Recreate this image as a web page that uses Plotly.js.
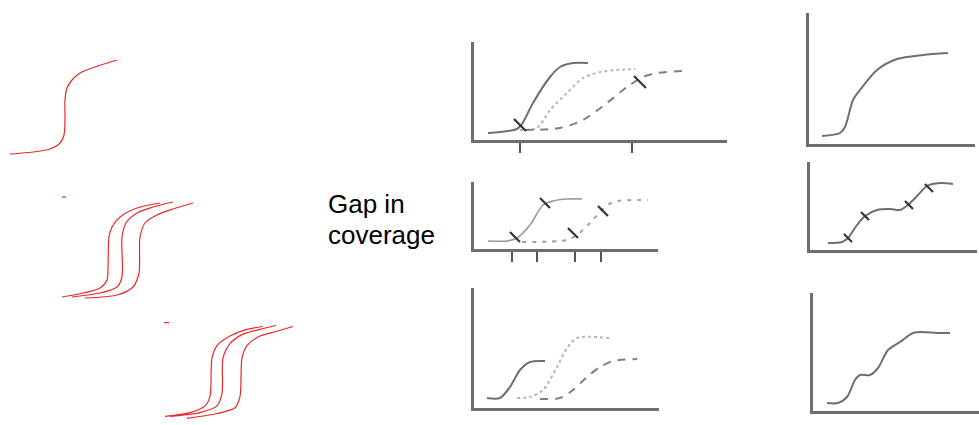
<!DOCTYPE html>
<html>
<head>
<meta charset="utf-8">
<script src="https://cdn.plot.ly/plotly-3.0.1.min.js"></script>
<style>html,body{margin:0;padding:0;background:#fff;}#chart{width:979px;height:425px;}</style>
</head>
<body>
<div id="chart"></div>
<script>
// ---------- DATA (x = time from axis origin, y = level) ----------
// Red hysteresis sketches
const r1X = [10, 33, 50, 60, 64, 65, 65, 67, 72, 80, 95, 117];
const r1Y = [6, 8, 11, 17, 25, 40, 60, 72, 80, 87, 93, 100];

const r2DashX = [22, 26];
const r2DashY = [113, 113];
const r2aX = [22, 43, 60, 67, 68, 69, 72, 80, 97, 120];
const r2aY = [13, 17, 22, 30, 43, 73, 83, 93, 102, 107];
const r2bX = [32, 60, 77, 82, 82, 86, 97, 113, 133];
const r2bY = [13, 17, 23, 33, 73, 87, 97, 103, 108];
const r2cX = [45, 77, 93, 99, 100, 105, 117, 133, 153];
const r2cY = [12, 15, 23, 37, 73, 87, 95, 101, 107];

const r3DashX = [14, 19];
const r3DashY = [107, 107];
const r3aX = [15, 40, 55, 60, 62, 67, 80, 97, 113];
const r3aY = [9, 13, 20, 30, 70, 83, 93, 100, 103];
const r3bX = [20, 50, 67, 72, 73, 80, 93, 110, 126];
const r3bY = [9, 13, 20, 33, 70, 85, 95, 100, 104];
const r3cX = [37, 67, 85, 90, 92, 97, 110, 127, 143];
const r3cY = [7, 12, 18, 30, 70, 83, 93, 98, 103];

// Middle column, panel 1
const g1Ticks = [46, 158];
const g1SolidX = [14, 43, 48, 59, 76, 86, 99, 114];
const g1SolidY = [7, 11, 16, 37, 63, 73, 77, 77];
const g1DotX = [46, 63, 76, 93, 109, 126, 143, 161];
const g1DotY = [10, 12, 30, 47, 62, 68, 70, 71];
const g1DashX = [51, 86, 109, 133, 153, 169, 183, 208];
const g1DashY = [10, 12, 20, 37, 53, 63, 67, 69];
const g1MarkX = [46, 166];
const g1MarkY = [15, 58];

// Middle column, panel 2 (gap in coverage)
const g2Ticks = [38, 63, 101, 127];
const g2SolidX = [14, 33, 43, 56, 69, 79, 93, 108];
const g2SolidY = [8, 8, 11, 24, 44, 48, 50, 50];
const g2DotX = [48, 93, 103, 116, 128, 139, 174];
const g2DotY = [7, 9, 14, 26, 39, 47, 49];
const g2MarkX = [41, 71, 99, 129];
const g2MarkY = [12, 46, 16, 38];

// Middle column, panel 3
const g3SolidX = [13, 26, 36, 46, 56, 71];
const g3SolidY = [10, 10, 21, 38, 46, 47];
const g3DotX = [43, 56, 69, 83, 93, 103, 136];
const g3DotY = [10, 11, 18, 41, 60, 70, 70];
const g3DashX = [66, 86, 99, 113, 126, 139, 163];
const g3DashY = [9, 10, 18, 31, 41, 47, 49];

// Right column
const g4X = [13, 31, 36, 44, 51, 68, 88, 114, 139];
const g4Y = [8, 11, 17, 44, 54, 74, 85, 89, 91];

const g5X = [18, 32, 38, 47, 55, 67, 80, 90, 98, 108, 117, 130, 143];
const g5Y = [7, 8, 12, 25, 34, 40, 41, 40, 45, 55, 64, 67, 66];
const g5MarkX = [38, 55, 99, 119];
const g5MarkY = [12, 34, 45, 62];

const g6X = [14, 25, 34, 42, 47, 57, 65, 75, 87, 100, 110, 124, 137];
const g6Y = [8, 8, 14, 31, 36, 36, 43, 61, 69, 78, 79, 78, 78];

const labelLines = ["Gap in", "coverage"];

// ---------- LAYOUT ----------
const W = 979, H = 425;
// panel boxes in pixels: [left, top, right, bottom]
const panels = [
  {box: [0, 60, 130, 160], axes: false},     // 1 red
  {box: [40, 190, 220, 310], axes: false},   // 2 red
  {box: [150, 315, 310, 430], axes: false},  // 3 red
  {box: [474, 42, 727, 140], axes: true, ticks: g1Ticks},   // 4
  {box: [474, 182, 658, 249], axes: true, ticks: g2Ticks},  // 5
  {box: [474, 288, 659, 408], axes: true},  // 6
  {box: [809, 13, 975, 144], axes: true},   // 7
  {box: [810, 162, 977, 250], axes: true},  // 8
  {box: [813, 293, 979, 411], axes: true}   // 9
];

const layout = {
  width: W, height: H,
  margin: {l: 0, r: 0, t: 0, b: 0},
  paper_bgcolor: '#fff', plot_bgcolor: 'rgba(0,0,0,0)',
  showlegend: false,
  annotations: [],
};

panels.forEach((p, i) => {
  const n = i + 1;
  const [l, t, r, b] = p.box;
  const xa = {
    domain: [Math.max(0, l / W), Math.min(1, r / W)],
    range: [0, r - l], showgrid: false, zeroline: false,
    showticklabels: false, fixedrange: true,
    anchor: 'y' + n,
  };
  const ya = {
    domain: [Math.max(0, 1 - b / H), Math.min(1, 1 - t / H)],
    range: [0, b - t], showgrid: false, zeroline: false,
    showticklabels: false, fixedrange: true,
    anchor: 'x' + n,
  };
  if (p.axes) {
    Object.assign(xa, {showline: true, linecolor: '#6e6e6e', linewidth: 3});
    Object.assign(ya, {showline: true, linecolor: '#6e6e6e', linewidth: 3});
    if (p.ticks) {
      Object.assign(xa, {ticks: 'outside', tickvals: p.ticks, ticklen: 10, tickwidth: 2, tickcolor: '#555'});
    }
  }
  layout['xaxis' + (n === 1 ? '' : n)] = xa;
  layout['yaxis' + (n === 1 ? '' : n)] = ya;
});

labelLines.forEach((txt, k) => {
  layout.annotations.push({
    text: txt, xref: 'paper', yref: 'paper',
    x: 326 / W, y: 1 - (204 + k * 31) / H,
    xanchor: 'left', yanchor: 'middle', showarrow: false,
    font: {family: 'Liberation Sans, Arial, sans-serif', size: 26, color: '#000'}
  });
});

// ---------- TRACES ----------
const traces = [];
function line(n, x, y, style) {
  const s = n === 1 ? '' : n;
  traces.push({
    type: 'scatter', mode: 'lines', x: x, y: y,
    xaxis: 'x' + s, yaxis: 'y' + s, hoverinfo: 'skip',
    line: Object.assign({shape: 'spline', smoothing: 0.8}, style)
  });
}
function marks(n, x, y, size) {
  const s = n === 1 ? '' : n;
  traces.push({
    type: 'scatter', mode: 'markers', x: x, y: y,
    xaxis: 'x' + s, yaxis: 'y' + s, hoverinfo: 'skip',
    marker: {symbol: 'line-nw', size: size, color: '#333', line: {width: 2.2, color: '#333'}}
  });
}

const red = {color: 'rgb(236,40,40)', width: 1.2};
line(1, r1X, r1Y, red);
line(2, r2DashX, r2DashY, red);
line(2, r2aX, r2aY, red);
line(2, r2bX, r2bY, red);
line(2, r2cX, r2cY, red);
line(3, r3DashX, r3DashY, red);
line(3, r3aX, r3aY, red);
line(3, r3bX, r3bY, red);
line(3, r3cX, r3cY, red);

const solid = {color: '#6f6f6f', width: 2};
const dotted = {color: '#b5b5b5', width: 2, dash: 'dot'};
const dashed = {color: '#808080', width: 2, dash: '8px,7px'};

line(4, g1SolidX, g1SolidY, solid);
line(4, g1DotX, g1DotY, dotted);
line(4, g1DashX, g1DashY, dashed);
marks(4, g1MarkX, g1MarkY, 12);

line(5, g2SolidX, g2SolidY, {color: '#9a9a9a', width: 1.6});
line(5, g2DotX, g2DotY, {color: '#a0a0a0', width: 2, dash: '4px,6px'});
marks(5, g2MarkX, g2MarkY, 10);

line(6, g3SolidX, g3SolidY, solid);
line(6, g3DotX, g3DotY, dotted);
line(6, g3DashX, g3DashY, dashed);

line(7, g4X, g4Y, solid);
line(8, g5X, g5Y, solid);
marks(8, g5MarkX, g5MarkY, 8);
line(9, g6X, g6Y, solid);

Plotly.newPlot('chart', traces, layout, {displayModeBar: false, staticPlot: true});
</script>
</body>
</html>
